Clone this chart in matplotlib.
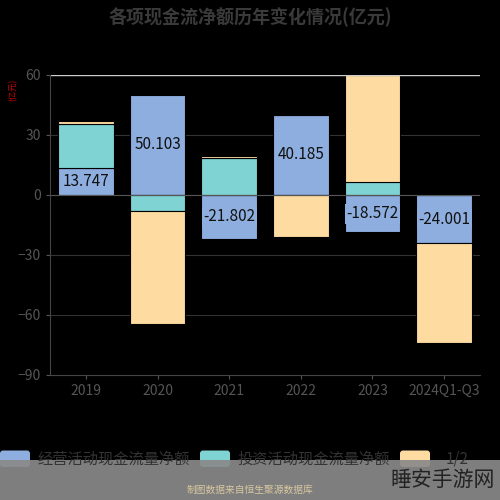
import numpy as np
import matplotlib.pyplot as plt
from matplotlib.patches import Rectangle, FancyBboxPatch

plt.rcParams['font.family'] = ['Noto Sans CJK SC', 'DejaVu Sans']

years = ['2019', '2020', '2021', '2022', '2023', '2024Q1-Q3']
operating = [13.747, 50.103, -21.802, 40.185, -18.572, -24.001]
investing = [21.8, -8.2, 18.3, 0.0, 6.5, 0.0]
financing = [1.5, -56.5, 1.2, -21.0, 53.5, -50.0]

c_op = '#8eaedf'
c_inv = '#7fd3d3'
c_fin = '#fedba0'
grid_c = '#333333'
text_c = '#555555'

fig = plt.figure(figsize=(5, 5), dpi=100, facecolor='black')
ax = fig.add_axes([0.10, 0.25, 0.86, 0.60], facecolor='black')

x = np.arange(len(years))
w = 0.78
pos = np.zeros(len(years))
neg = np.zeros(len(years))
for vals, col in [(operating, c_op), (investing, c_inv), (financing, c_fin)]:
    vals = np.array(vals, dtype=float)
    bottom = np.where(vals >= 0, pos, neg)
    ax.bar(x, vals, w, bottom=bottom, color=col, edgecolor='black', linewidth=0.8)
    pos = pos + np.where(vals >= 0, vals, 0)
    neg = neg + np.where(vals < 0, vals, 0)

for i, v in enumerate(operating):
    ax.text(x[i], v / 2, f'{v:.3f}', ha='center', va='center',
            fontsize=11, color='#111111',
            bbox=dict(boxstyle='square,pad=0.1', fc=c_op, ec='none'))

ax.set_ylim(-90, 60)
ax.set_yticks([-90, -60, -30, 0, 30, 60])
ax.set_xlim(-0.5, len(years) - 0.5)
ax.set_xticks(x)
ax.set_xticklabels(years)
ax.tick_params(colors=text_c, labelsize=10, length=3)
ax.yaxis.grid(True, color=grid_c, linewidth=0.8)
ax.axhline(60, color='#cccccc', linewidth=1)
ax.axhline(0, color='#555555', linewidth=0.8)
ax.set_axisbelow(True)
for s in ['top', 'right']:
    ax.spines[s].set_visible(False)
ax.spines['left'].set_color('#444444')
ax.spines['bottom'].set_color('#444444')
fig.text(0.025, 0.82, '(亿元)', color='#cc0000', fontsize=6, rotation=90, ha='center', va='center')

fig.text(0.5, 0.965, '各项现金流净额历年变化情况(亿元)', color='#3a3a3a', fontsize=13,
         fontweight='bold', ha='center', va='center')

# legend row
legend = [(0.0, c_op, '经营活动现金流量净额'), (0.40, c_inv, '投资活动现金流量净额'), (0.80, c_fin, '')]
for lx, col, lab in legend:
    fig.patches.append(FancyBboxPatch((lx, 0.066), 0.06, 0.033, boxstyle='round,pad=0,rounding_size=0.006',
                                      transform=fig.transFigure, fc=col, ec='none'))
    if lab:
        fig.text(lx + 0.075, 0.082, lab, color='#333333', fontsize=11, va='center')
fig.text(0.915, 0.082, '1/2', color='#333333', fontsize=11, ha='center', va='center')
fig.patches.append(Rectangle((0, 0), 1, 0.08, transform=fig.transFigure, fc='#8a8a8a', ec='none', alpha=0.92))
fig.text(0.5, 0.02, '制图数据来自恒生聚源数据库', color='#d8c8a0', fontsize=7, ha='center', va='center')
fig.text(0.99, 0.04, '睡安手游网', color='#222222', fontsize=15, ha='right', va='center')

fig.savefig('out.png', facecolor='black')
